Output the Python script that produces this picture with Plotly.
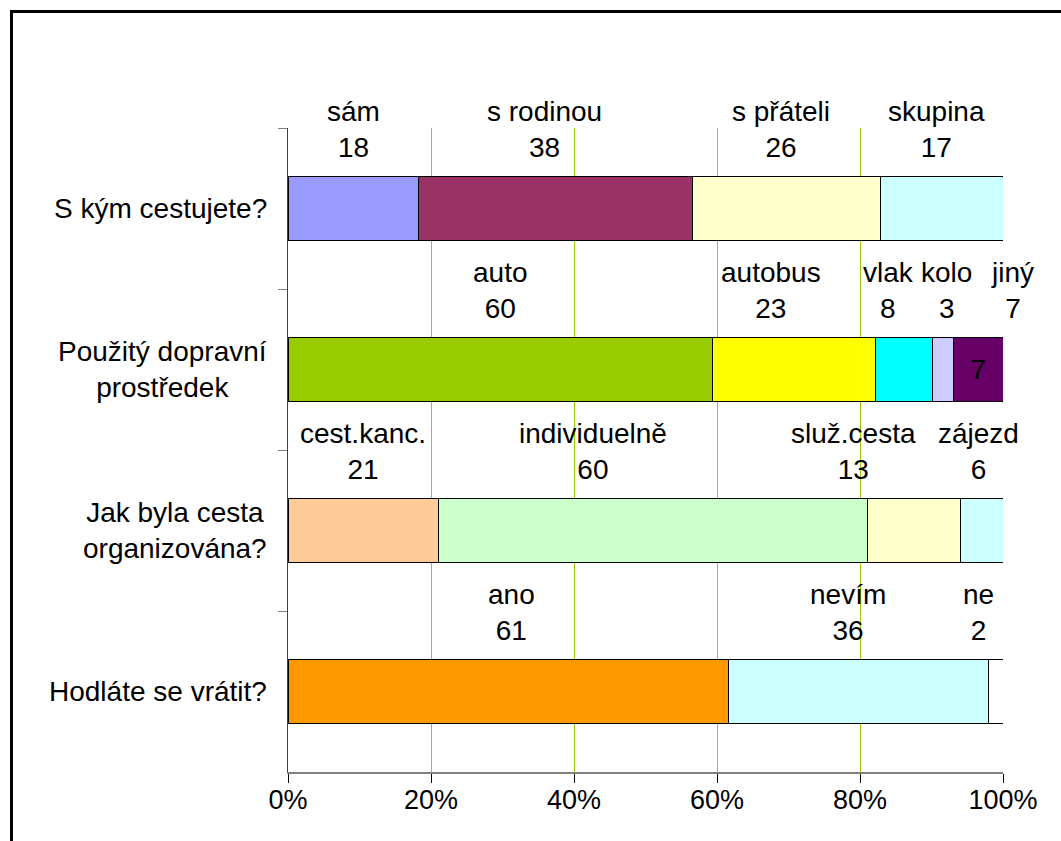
import plotly.graph_objects as go

# ---------------- data ----------------
questions = [
    "S kým cestujete?",
    "Použitý dopravní<br>prostředek",
    "Jak byla cesta<br>organizována?",
    "Hodláte se vrátit?",
]

q1_names = ["sám", "s rodinou", "s přáteli", "skupina"]
q1_values = [18, 38, 26, 17]

q2_names = ["auto", "autobus", "vlak", "kolo", "jiný"]
q2_values = [60, 23, 8, 3, 7]

q3_names = ["cest.kanc.", "individuelně", "služ.cesta", "zájezd"]
q3_values = [21, 60, 13, 6]

q4_names = ["ano", "nevím", "ne"]
q4_values = [61, 36, 2]

x_ticks = [0, 20, 40, 60, 80, 100]
x_tick_labels = ["0%", "20%", "40%", "60%", "80%", "100%"]

# ---------------- styles ----------------
q1_colors = ["#9999FF", "#993366", "#FFFFCC", "#CCFFFF"]
q2_colors = ["#99CC00", "#FFFF00", "#00FFFF", "#CCCCFF", "#660066"]
q3_colors = ["#FFCC99", "#CCFFCC", "#FFFFCC", "#CCFFFF"]
q4_colors = ["#FF9900", "#CCFFFF", "#FFFFFF"]

# manual horizontal nudges (px) of the labels above the segments
q1_shift = [0, -11, -5, -5]
q2_shift = [0, -23, -15, 4, 34]
q3_shift = [0, -60, -60, -3]
q4_shift = [3, -11, -17]

# segments whose value is also printed inside the bar
inside_label = {(1, 4)}

groups = [
    (q1_names, q1_values, q1_colors, q1_shift),
    (q2_names, q2_values, q2_colors, q2_shift),
    (q3_names, q3_values, q3_colors, q3_shift),
    (q4_names, q4_values, q4_colors, q4_shift),
]

FONT = "Liberation Sans, Arial, sans-serif"
FS = 28
TICK_FS = 27

fig = go.Figure()
annotations = []

for qi, (names, values, colors, shifts) in enumerate(groups):
    total = sum(values)
    cum = 0
    for si, (n, v, c, sh) in enumerate(zip(names, values, colors, shifts)):
        has_txt = (qi, si) in inside_label
        fig.add_trace(go.Bar(
            x=[v], y=[questions[qi]], orientation="h",
            marker=dict(color=c, line=dict(color="#000000", width=1)),
            text=[str(v)] if has_txt else None,
            textposition="inside" if has_txt else "none",
            insidetextanchor="middle",
            textangle=0,
            insidetextfont=dict(color="#000000", size=FS, family=FONT),
            hoverinfo="skip", showlegend=False,
        ))
        center = (cum + v / 2) / total * 100
        cum += v
        annotations.append(dict(
            x=center, y=questions[qi], xref="x", yref="y",
            text=f"{n}<br>{v}", showarrow=False,
            xanchor="center", yanchor="middle", align="center",
            xshift=sh, yshift=79,
            font=dict(size=FS, color="#000000", family=FONT),
        ))

# category labels on the left (centered multi-line)
for q in questions:
    annotations.append(dict(
        x=0, y=q, xref="paper", yref="y", text=q, showarrow=False,
        xanchor="right", yanchor="middle", align="center", xshift=-19,
        font=dict(size=FS, color="#000000", family=FONT),
    ))

L, R, T, B = 288, 58, 128, 69
W, H = 1061, 841
pw, ph = W - L - R, H - T - B

def px2paper_x(px):
    return (px - L) / pw

def px2paper_y(py):
    return (H - B - py) / ph

fig.update_layout(
    width=W, height=H, autosize=False,
    margin=dict(l=L, r=R, t=T, b=B, pad=0),
    paper_bgcolor="white", plot_bgcolor="white",
    barmode="stack", barnorm="percent", bargap=0.6,
    font=dict(family=FONT, size=FS, color="#000000"),
    annotations=annotations,
    shapes=[dict(
        type="rect", xref="paper", yref="paper",
        x0=px2paper_x(11.5), x1=px2paper_x(1075),
        y0=px2paper_y(11.5), y1=px2paper_y(860),
        line=dict(color="#000000", width=3), fillcolor="rgba(0,0,0,0)",
        layer="above",
    )],
    xaxis=dict(
        range=[0, 100], tickmode="array", tickvals=x_ticks,
        ticktext=x_tick_labels,
        showgrid=True, gridcolor="#99CC00", gridwidth=1,
        zeroline=False, showline=True, linecolor="#808080", linewidth=2,
        ticks="outside", ticklen=9, tickwidth=1, tickcolor="#000000",
        tickfont=dict(size=TICK_FS, family=FONT, color="#000000"),
        ticklabelstandoff=-6,
        fixedrange=True,
    ),
    yaxis=dict(
        range=[3.5, -0.5], autorange=False, showgrid=False, zeroline=False,
        showline=True, linecolor="#404040", linewidth=1,
        ticks="outside", ticklen=9, tickwidth=1, tickcolor="#808080",
        tickson="boundaries", showticklabels=False, fixedrange=True,
    ),
)

fig.write_html("out.html", post_script="document.body.style.margin='0';",
               config={"displayModeBar": False})
